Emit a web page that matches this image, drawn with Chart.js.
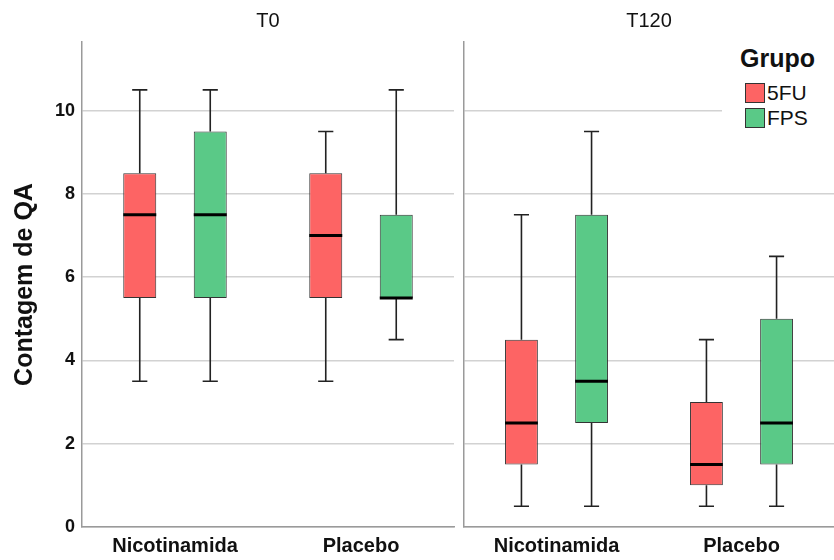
<!DOCTYPE html>
<html>
<head>
<meta charset="utf-8">
<script src="https://cdn.jsdelivr.net/npm/chart.js@4.4.1/dist/chart.umd.min.js"></script>
<style>
  body { margin: 0; background: #fff; font-family: 'Liberation Sans', Arial, sans-serif; }
  #wrap { position: relative; width: 834px; height: 560px; overflow: hidden; }
  #left { position: absolute; left: 0; top: 0; }
  #right { position: absolute; left: 456px; top: 0; }
  #legend { position: absolute; left: 722px; top: 44px; width: 112px; height: 96px; background: #fff; color: #111; }
  #legend .ttl { position: absolute; left: 18px; top: 0px; font-weight: bold; font-size: 25px; }
  #legend .item { position: absolute; left: 23px; font-size: 21px; line-height: 20px; }
  #legend .sw { display: inline-block; width: 18px; height: 18px; border: 1px solid #333; vertical-align: top; margin-right: 2px; }
</style>
</head>
<body>
<div id="wrap">
  <canvas id="left" width="456" height="560"></canvas>
  <canvas id="right" width="378" height="560"></canvas>
  <div id="legend">
    <div class="ttl">Grupo</div>
    <div class="item" style="top:39px"><span class="sw" style="background:#fd6464"></span>5FU</div>
    <div class="item" style="top:64px"><span class="sw" style="background:#5ac987"></span>FPS</div>
  </div>
</div>
<script>
// categorias e grupos
const categories = ['Nicotinamida', 'Placebo'];
const groups = ['5FU', 'FPS'];
const colors = ['#fd6464', '#5ac987'];

// [min, q1, mediana, q3, max] por categoria
const t0_5FU = [[3.5, 5.5, 7.5, 8.5, 10.5], [3.5, 5.5, 7, 8.5, 9.5]];
const t0_FPS = [[3.5, 5.5, 7.5, 9.5, 10.5], [4.5, 5.5, 5.5, 7.5, 10.5]];
const t120_5FU = [[0.5, 1.5, 2.5, 4.5, 7.5], [0.5, 1, 1.5, 3, 4.5]];
const t120_FPS = [[0.5, 2.5, 3.5, 7.5, 9.5], [0.5, 1.5, 2.5, 5, 6.5]];

const yTicks = [0, 2, 4, 6, 8, 10];
const yMax = 11.65;

const boxPlugin = {
  id: 'boxWhiskers',
  afterDatasetsDraw(chart) {
    const ctx = chart.ctx;
    const y = chart.scales.y;
    chart.data.datasets.forEach((ds, i) => {
      const meta = chart.getDatasetMeta(i);
      meta.data.forEach((bar, j) => {
        const s = ds.stats[j];
        const x = bar.x, w = bar.width;
        const pMin = y.getPixelForValue(s[0]);
        const pQ1 = y.getPixelForValue(s[1]);
        const pMed = y.getPixelForValue(s[2]);
        const pQ3 = y.getPixelForValue(s[3]);
        const pMax = y.getPixelForValue(s[4]);
        const cap = w * 0.23;
        ctx.save();
        ctx.strokeStyle = '#222';
        ctx.lineWidth = 1.6;
        ctx.beginPath();
        ctx.moveTo(x, pQ3); ctx.lineTo(x, pMax);
        ctx.moveTo(x - cap, pMax); ctx.lineTo(x + cap, pMax);
        ctx.moveTo(x, pQ1); ctx.lineTo(x, pMin);
        ctx.moveTo(x - cap, pMin); ctx.lineTo(x + cap, pMin);
        ctx.stroke();
        ctx.strokeStyle = '#000';
        ctx.lineWidth = 3;
        ctx.beginPath();
        ctx.moveTo(x - w / 2, pMed); ctx.lineTo(x + w / 2, pMed);
        ctx.stroke();
        ctx.restore();
      });
    });
  }
};

function makeDataset(label, stats, color) {
  return {
    label: label,
    data: stats.map(s => [s[1], s[3]]),
    stats: stats,
    backgroundColor: color,
    borderColor: '#333',
    borderWidth: 1,
    borderSkipped: false,
    categoryPercentage: 0.758,
    barPercentage: 0.468
  };
}

function makeConfig(title, ds5FU, dsFPS, isLeft) {
  return {
    type: 'bar',
    data: {
      labels: categories,
      datasets: [
        makeDataset(groups[0], ds5FU, colors[0]),
        makeDataset(groups[1], dsFPS, colors[1])
      ]
    },
    options: {
      responsive: false,
      animation: false,
      layout: { padding: { left: 0, right: isLeft ? 2 : 0, top: 0, bottom: 0 } },
      plugins: {
        legend: { display: false },
        tooltip: { enabled: false },
        title: {
          display: true,
          text: title,
          fullSize: false,
          color: '#111',
          font: { family: "'Liberation Sans', Arial", size: 20, weight: 'normal' },
          padding: { top: 9, bottom: 9 }
        }
      },
      scales: {
        x: {
          grid: { display: false, drawTicks: false },
          border: { display: true, color: '#9a9a9a', width: 1.5 },
          ticks: {
            color: '#111',
            padding: 7,
            font: { family: "'Liberation Sans', Arial", size: 20, weight: 'bold' }
          },
          afterFit: s => { s.height = 33; }
        },
        y: {
          min: 0,
          max: yMax,
          grid: { color: '#d2d2d2', lineWidth: 1.5, drawTicks: false },
          border: { display: true, color: '#9a9a9a', width: 1.5 },
          ticks: {
            display: isLeft,
            color: '#111',
            padding: 7,
            font: { family: "'Liberation Sans', Arial", size: 18, weight: 'bold' }
          },
          title: {
            display: isLeft,
            text: 'Contagem de QA',
            color: '#111',
            padding: { top: 10, bottom: 0 },
            font: { family: "'Liberation Sans', Arial", size: 25, weight: 'bold' }
          },
          afterBuildTicks: s => { s.ticks = yTicks.map(v => ({ value: v })); },
          afterFit: s => { s.width = isLeft ? 82 : 8; }
        }
      }
    },
    plugins: [boxPlugin]
  };
}

new Chart(document.getElementById('left'), makeConfig('T0', t0_5FU, t0_FPS, true));
new Chart(document.getElementById('right'), makeConfig('T120', t120_5FU, t120_FPS, false));
</script>
</body>
</html>
